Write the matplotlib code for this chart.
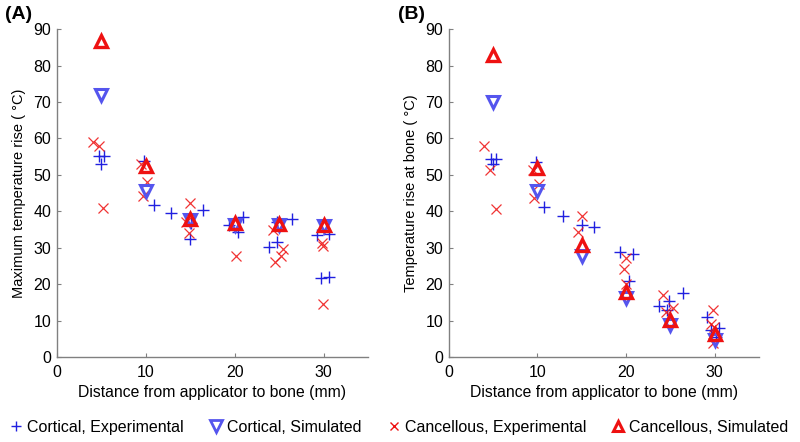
import matplotlib
matplotlib.use("Agg")
import matplotlib.pyplot as plt
from matplotlib.lines import Line2D

plt.rcParams['font.family'] = ['Liberation Sans', 'DejaVu Sans']

# ---- panel A: maximum temperature rise ----
a_cort_exp_x = [4.8, 5.3, 5.0, 9.8, 10.9, 12.8, 15.1, 15.0, 16.4, 19.4, 20.9, 20.4,
                24.8, 23.9, 24.8, 26.5, 29.3, 30.6, 29.7, 30.6]
a_cort_exp_y = [55.2, 55.2, 53.0, 53.8, 41.7, 39.6, 36.7, 32.3, 40.3, 36.2, 38.5, 34.4,
                37.1, 30.3, 31.6, 37.8, 33.5, 33.9, 21.6, 22.0]
a_canc_exp_x = [4.1, 4.7, 5.2, 9.5, 10.2, 9.7, 15.0, 14.5, 14.9, 20.1,
                24.3, 24.5, 25.2, 25.4, 29.8, 29.9, 29.9]
a_canc_exp_y = [59.1, 57.9, 40.9, 53.1, 48.1, 44.3, 42.3, 37.1, 34.1, 27.7,
                35.0, 26.2, 27.7, 29.6, 31.2, 30.5, 14.5]
sim_x = [5, 10, 15, 20, 25, 30]
a_cort_sim_y = [72.0, 45.5, 37.6, 36.3, 36.2, 36.0]
a_canc_sim_y = [86.7, 52.5, 38.0, 36.7, 36.5, 36.2]

# ---- panel B: temperature rise at bone ----
b_cort_exp_x = [4.8, 5.3, 5.0, 9.8, 10.7, 12.9, 15.0, 16.4, 19.3, 20.8, 20.3,
                23.7, 24.9, 24.6, 26.4, 29.2, 29.6, 30.5, 30.2]
b_cort_exp_y = [54.5, 54.5, 53.1, 53.6, 41.1, 38.7, 36.2, 35.8, 28.9, 28.4, 20.9,
                14.0, 15.5, 12.9, 17.6, 11.1, 7.4, 8.1, 5.6]
b_canc_exp_x = [4.0, 4.7, 5.3, 9.5, 10.2, 9.6, 15.0, 14.6, 20.0, 19.8, 20.0,
                24.2, 24.5, 25.3, 29.8, 29.6, 29.8, 29.9]
b_canc_exp_y = [57.9, 51.3, 40.6, 51.3, 47.5, 43.8, 38.7, 34.4, 27.1, 24.3, 20.2,
                17.0, 12.4, 13.4, 12.9, 9.2, 3.9, 8.4]
b_cort_sim_y = [70.1, 45.5, 27.7, 16.1, 8.8, 4.8]
b_canc_sim_y = [82.9, 51.8, 30.9, 17.9, 10.3, 6.3]

xlabel = 'Distance from applicator to bone (mm)'
ylabels = ['Maximum temperature rise ( \u00b0C)', 'Temperature rise at bone ( \u00b0C)']
legend_labels = ['Cortical, Experimental', 'Cortical, Simulated',
                 'Cancellous, Experimental', 'Cancellous, Simulated']

BLUE = '#2020e0'
BLUE_TRI = '#5555ee'
RED = '#ee1111'

fig = plt.figure(figsize=(8, 4.42), dpi=100)
ax_a = fig.add_axes([0.071, 0.192, 0.389, 0.742])
ax_b = fig.add_axes([0.561, 0.192, 0.3875, 0.742])

panels = [
    (ax_a, a_cort_exp_x, a_cort_exp_y, a_canc_exp_x, a_canc_exp_y, a_cort_sim_y, a_canc_sim_y),
    (ax_b, b_cort_exp_x, b_cort_exp_y, b_canc_exp_x, b_canc_exp_y, b_cort_sim_y, b_canc_sim_y),
]

for i, (ax, cx, cy, kx, ky, csim, ksim) in enumerate(panels):
    ax.plot(cx, cy, ls='none', marker='+', ms=8, mew=1.0, color=BLUE)
    ax.plot(kx, ky, ls='none', marker='x', ms=6.5, mew=0.9, color=RED, alpha=0.85)
    ax.plot(sim_x, csim, ls='none', marker='v', ms=9, mew=2.2, mfc='none', mec=BLUE_TRI)
    ax.plot(sim_x, ksim, ls='none', marker='^', ms=9, mew=2.4, mfc='none', mec=RED)

    ax.set_xlim(0, 35)
    ax.set_ylim(0, 90)
    ax.set_xticks([0, 10, 20, 30])
    ax.set_yticks(range(0, 91, 10))
    for s in ['top', 'right']:
        ax.spines[s].set_visible(False)
    for s in ['left', 'bottom']:
        ax.spines[s].set_color('#808080')
        ax.spines[s].set_linewidth(1.0)
    ax.tick_params(direction='in', length=3, color='#808080', labelsize=11.5, pad=4)
    ax.tick_params(axis='x', pad=6)
    ax.set_xlabel(xlabel, fontsize=11.3, labelpad=3)
    ax.set_ylabel(ylabels[i], fontsize=10.5, labelpad=5)

fig.text(0.006, 0.968, '(A)', fontsize=14, fontweight='bold', va='center')
fig.text(0.497, 0.968, '(B)', fontsize=14, fontweight='bold', va='center')

handles = [
    Line2D([], [], ls='none', marker='+', ms=7, mew=1.0, color=BLUE),
    Line2D([], [], ls='none', marker='v', ms=8, mew=2.0, mfc='none', mec=BLUE_TRI),
    Line2D([], [], ls='none', marker='x', ms=6, mew=1.0, color=RED),
    Line2D([], [], ls='none', marker='^', ms=7.5, mew=2.2, mfc='none', mec=RED),
]
fig.legend(handles, legend_labels, loc='center', bbox_to_anchor=(0.5, 0.033), ncol=4,
           frameon=False, fontsize=11.5, handlelength=0.6, handletextpad=0.4,
           columnspacing=1.7, borderpad=0)

fig.savefig('out.png', dpi=100)
